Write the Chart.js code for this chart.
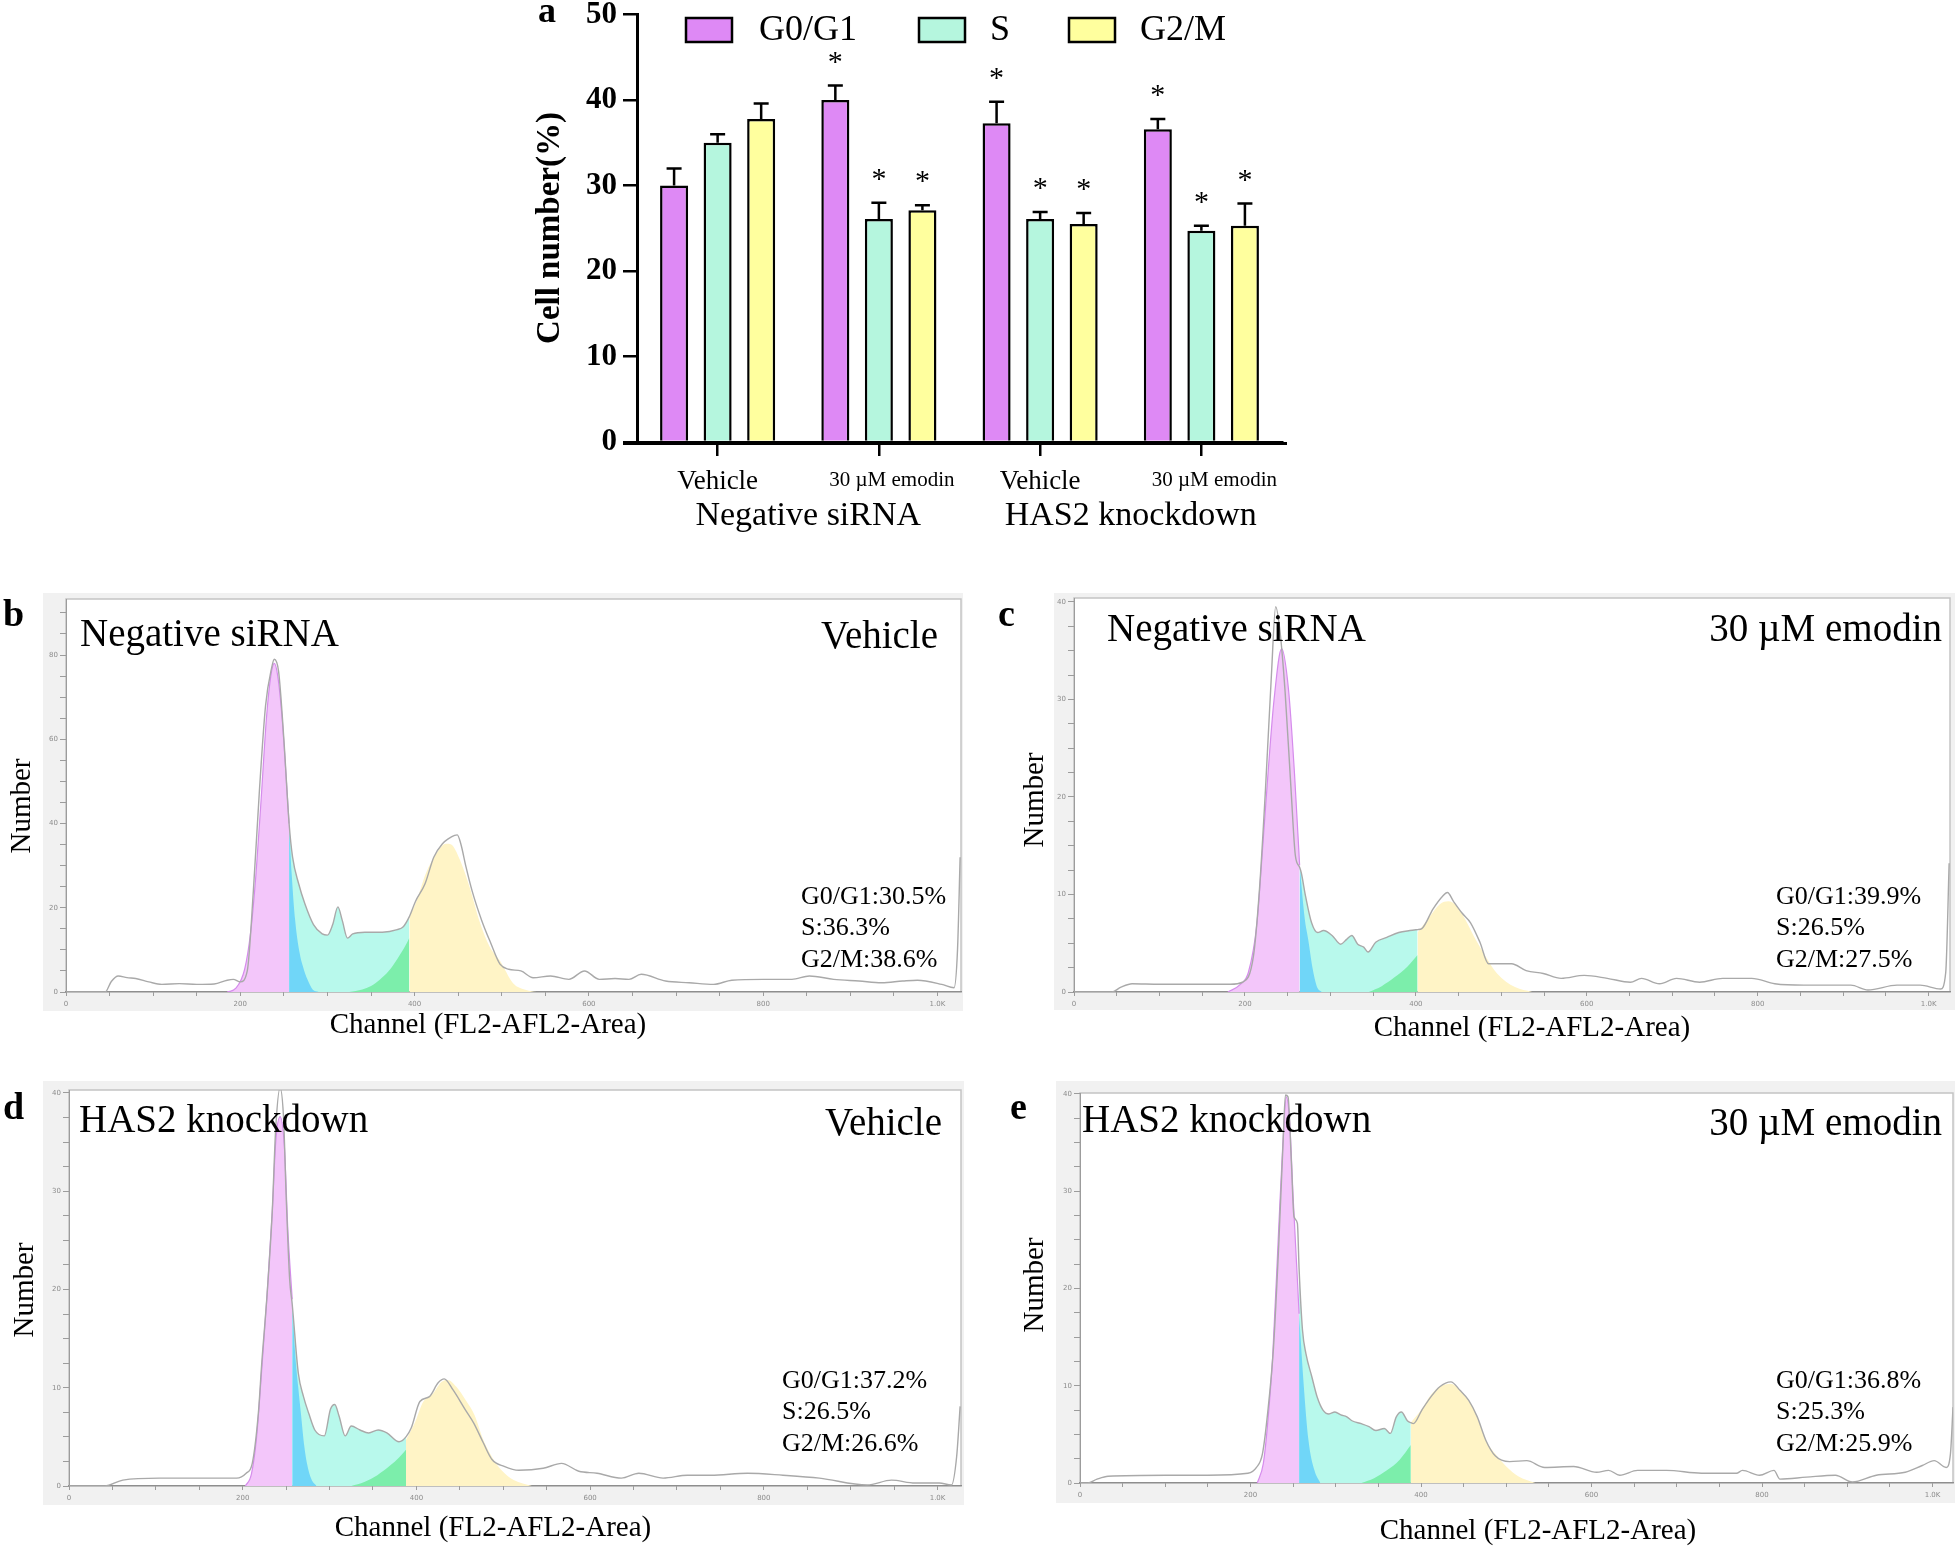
<!DOCTYPE html>
<html>
<head>
<meta charset="utf-8">
<script src="https://cdn.jsdelivr.net/npm/chart.js@4.4.0/dist/chart.umd.min.js"></script>
<style>
  html, body { margin: 0; padding: 0; background: #fff; }
  body { width: 1960px; height: 1552px; position: relative; overflow: hidden; }
  .panel { position: absolute; }
</style>
</head>
<body>
<script>
'use strict';

const SERIF = '"Liberation Serif", "Times New Roman", serif';

// ---- panel a: cell cycle distribution (mean + SD) ----
const groupLabels = ['Vehicle', '30 µM emodin', 'Vehicle', '30 µM emodin'];
const treatmentLabels = ['Negative siRNA', 'HAS2 knockdown'];
const phaseNames = ['G0/G1', 'S', 'G2/M'];
const g0g1Mean = [30.0, 40.0, 37.3, 36.6];
const g0g1Err = [2.0, 1.7, 2.5, 1.2];
const sMean = [35.0, 26.1, 26.1, 24.7];
const sErr = [1.0, 1.9, 0.8, 0.6];
const g2mMean = [37.8, 27.1, 25.5, 25.3];
const g2mErr = [1.8, 0.6, 1.3, 2.6];
const significant = [false, true, true, true];
const yTicksA = [0, 10, 20, 30, 40, 50];

// ---- panels b-e: DNA content histograms ----
const channelTicks = [0, 200, 400, 600, 800, 1000];
const channelTickText = ['0', '200', '400', '600', '800', '1.0K'];

const bChannel = [0, 45, 52, 60, 70, 80, 95, 110, 130, 150, 170, 185, 192, 200, 208, 215, 222, 229, 236, 239, 244, 250, 256, 260, 267, 274, 284, 294, 300, 306, 312, 317, 323, 329, 343, 363, 380, 387, 394, 401, 412, 422, 432, 439, 446, 449, 453, 459, 466, 477, 487, 498, 508, 522, 536, 556, 577, 595, 612, 630, 646, 660, 688, 715, 743, 764, 800, 833, 853, 881, 910, 936, 960, 977, 1005, 1019, 1023, 1026];
const bCount = [0, 0, 2.5, 3.8, 3.4, 3.2, 2.4, 1.8, 2.0, 1.8, 1.9, 2.8, 3.0, 2.4, 5, 24, 48, 68, 77, 79, 76, 60, 40, 32, 25.7, 21, 16, 13.8, 13.5, 16, 20.2, 17, 12.8, 13.8, 14.2, 14.2, 14.8, 15.5, 17.9, 21.5, 25.7, 32, 35.2, 36.4, 37.2, 37.3, 35.2, 29.7, 24, 17, 11.8, 6.6, 5.4, 5, 3.4, 3.8, 3, 5, 3, 3.2, 3, 4.2, 2.6, 2.2, 1.8, 2.8, 3, 3, 3.8, 3, 2.6, 2.2, 2.6, 2.8, 1.8, 1, 10, 32];
const bG1Ch = [185, 195, 205, 212, 218, 224, 230, 235, 239, 243, 248, 252, 256, 259, 263, 268, 272, 277, 283, 290];
const bG1 = [0, 0.9, 5.4, 14.4, 28, 46, 65, 75, 78, 75, 65, 53, 40, 28, 17, 9.4, 6, 3, 0.6, 0];
const bG2Ch = [325, 340, 350, 360, 370, 380, 390, 394];
const bG2 = [0, 0.6, 1.4, 2.9, 4.9, 7.8, 11.2, 12.9];
const bG2MCh = [394, 402, 413, 425, 436, 442, 452, 463, 475, 486, 498, 513, 528, 540];
const bG2M = [17.9, 21.5, 28.2, 32.9, 35.2, 35, 31.4, 25, 16.5, 10.8, 7.4, 2.1, 0.5, 0];
const bCuts = [256, 394];

const cChannel = [0, 44, 55, 68, 100, 150, 183, 197, 210, 217, 224, 231, 236, 241, 247, 254, 259, 264, 266, 271, 278, 285, 292, 302, 312, 319, 325, 332, 339, 344, 353, 366, 380, 393, 402, 407, 420, 431, 437, 444, 454, 464, 475, 485, 495, 512, 529, 549, 570, 597, 624, 651, 664, 685, 705, 732, 759, 793, 820, 854, 909, 929, 963, 990, 1014, 1020, 1024];
const cCount = [0, 0, 0.5, 0.85, 0.8, 0.8, 0.8, 1, 3.7, 10.5, 20.7, 32.5, 39.5, 37, 30.8, 20.7, 14, 12.8, 12.2, 9.8, 7.1, 6.1, 6.3, 5.8, 4.9, 5.4, 5.8, 4.9, 4.6, 4.1, 5.1, 5.6, 6.1, 6.3, 6.4, 6.5, 8.5, 9.8, 10.2, 9.3, 8.1, 7.1, 5.1, 2.9, 2.9, 2.9, 2.2, 1.9, 1.4, 1.7, 1.4, 1, 1.4, 0.85, 1.4, 1, 1.4, 1.4, 0.85, 0.7, 0.7, 0.2, 0.7, 0.7, 0.3, 2, 13.2];
const cG1Ch = [180, 195, 204, 214, 220, 227, 234, 243, 251, 258, 264, 270, 274, 279, 284, 290];
const cG1 = [0, 0.8, 2, 7, 13.9, 22.4, 29.9, 35.2, 31, 22.4, 13, 7.5, 5.4, 2.5, 0.6, 0];
const cG2Ch = [345, 360, 375, 390, 402];
const cG2 = [0, 0.6, 1.5, 2.6, 3.8];
const cG2MCh = [402, 415, 428, 438, 448, 458, 468, 482, 495, 516, 536];
const cG2M = [6.1, 7.6, 9.0, 9.3, 8.8, 7.4, 5.7, 3.6, 1.9, 0.5, 0];
const cCuts = [264, 402];

const dChannel = [0, 41, 62, 104, 150, 193, 204, 211, 218, 222, 228, 234, 238, 243, 247, 250, 254, 257, 264, 270, 276, 283, 294, 301, 306, 311, 318, 325, 335, 345, 356, 366, 380, 388, 394, 404, 415, 425, 432, 442, 456, 466, 477, 487, 501, 518, 546, 567, 587, 608, 636, 656, 684, 712, 739, 781, 822, 864, 919, 947, 974, 1002, 1016, 1022, 1026];
const dCount = [0, 0, 0.6, 0.8, 0.8, 0.8, 1.3, 2.3, 7.4, 12.6, 19.4, 27.9, 36.4, 40.5, 37.5, 29.6, 21.1, 18.5, 11.5, 9.1, 7.4, 5.7, 5.1, 7.8, 8.3, 7.1, 5.1, 6.1, 5.7, 5.4, 5.7, 5.4, 4.5, 5.0, 5.9, 8.6, 9.1, 10.5, 10.9, 9.8, 7.8, 6.4, 4.4, 2.7, 2, 1.6, 1.8, 2.3, 1.5, 1.3, 0.8, 1.3, 0.8, 1.1, 1.1, 1.3, 1.1, 0.8, 0.1, 0.6, 0.3, 0.3, 0.1, 3, 8.1];
const dG1Ch = [203, 210, 216, 222, 228, 234, 238, 243, 248, 252, 257, 260, 264, 267, 271, 274, 279, 285];
const dG1 = [0, 1.2, 5, 12, 19.4, 27.9, 35, 37.6, 34.5, 26, 19, 14, 10, 7.4, 4, 2.3, 0.7, 0];
const dG2Ch = [325, 340, 355, 370, 380, 388];
const dG2 = [0, 0.4, 1.1, 2.1, 2.9, 3.7];
const dG2MCh = [388, 398, 408, 419, 429, 436, 446, 457, 467, 477, 488, 498, 512, 533];
const dG2M = [4.7, 6.4, 8.6, 9.4, 10.6, 10.8, 10.1, 8.7, 7.2, 4.7, 2.8, 1.6, 0.6, 0];
const dCuts = [257, 388];

const eChannel = [0, 9, 20, 33, 101, 150, 197, 207, 214, 220, 227, 233, 238, 241, 244, 248, 251, 255, 257, 261, 265, 272, 278, 285, 292, 299, 306, 313, 319, 330, 339, 347, 357, 364, 371, 377, 384, 388, 391, 401, 412, 422, 435, 446, 456, 466, 476, 487, 504, 524, 545, 579, 606, 620, 633, 654, 688, 729, 770, 777, 797, 814, 821, 852, 886, 906, 934, 968, 988, 1002, 1016, 1021, 1024];
const eCount = [0, 0, 0.4, 0.7, 0.8, 0.8, 1, 1.6, 3, 7.1, 14, 24.3, 34.6, 39.9, 39.7, 32.9, 27.4, 26.7, 22, 15.7, 13.3, 10.9, 8.9, 7.5, 7.1, 7.3, 7, 6.8, 6.4, 6.1, 5.8, 5.4, 5.6, 5.1, 6.8, 7.3, 6.4, 6.2, 6.1, 7.5, 8.9, 9.9, 10.4, 9.5, 8.5, 6.8, 4.4, 2.8, 2.2, 2.3, 1.6, 1.7, 1.1, 1.3, 0.8, 1.3, 1.3, 1, 1, 1.3, 0.8, 1.3, 0.4, 0.6, 0.8, 0.1, 0.8, 1.1, 1.8, 2.3, 1.6, 3, 7.8];
const eG1Ch = [208, 215, 220, 226, 233, 238, 242, 246, 250, 255, 257, 262, 268, 275, 282];
const eG1 = [0, 2, 6, 13, 26, 35, 39.7, 37, 29.4, 20.9, 17.4, 10.6, 4.4, 1.3, 0];
const eG2Ch = [330, 345, 360, 375, 388];
const eG2 = [0, 0.5, 1.3, 2.4, 3.9];
const eG2MCh = [388, 401, 411, 422, 435, 446, 456, 466, 476, 487, 500, 514, 534];
const eG2M = [6.2, 7.6, 9.0, 9.9, 10.2, 9.5, 8.5, 6.8, 4.4, 3.0, 1.7, 0.7, 0];
const eCuts = [257, 388];

// fill colours of the fitted components
const PINK = '#f3c6fa', BLUE = '#70d6f8', MINT = '#b8f9ec', GREEN = '#7ceeab', YELLOW = '#fff4c6';

// page placement (page px) of every panel
const barBox = { left: 500, top: -10, w: 820, h: 560 };
const histPanels = [
  { id: 'histB', letter: 'b', title: 'Negative siRNA', treatment: 'Vehicle', stats: ['G0/G1:30.5%', 'S:36.3%', 'G2/M:38.6%'],
    ch: bChannel, count: bCount, g1Ch: bG1Ch, g1: bG1, g2Ch: bG2Ch, g2: bG2, g2mCh: bG2MCh, g2m: bG2M, cuts: bCuts,
    yMax: 93.3, yStep: 5, yLabelEvery: 20, xMax: 1027,
    box: { left: 0, top: 585, w: 985, h: 460 }, frame: [43, 593, 963, 1011], area: [66, 599, 961, 992],
    letterPos: [3, 616], titlePos: [80, 636], treatPos: [938, 638], statsPos: [801, 897], numberPos: [22, 806], channelPos: [488, 1025] },
  { id: 'histC', letter: 'c', title: 'Negative siRNA', treatment: '30 µM emodin', stats: ['G0/G1:39.9%', 'S:26.5%', 'G2/M:27.5%'],
    ch: cChannel, count: cCount, g1Ch: cG1Ch, g1: cG1, g2Ch: cG2Ch, g2: cG2, g2mCh: cG2MCh, g2m: cG2M, cuts: cCuts,
    yMax: 40.4, yStep: 2.5, yLabelEvery: 10, xMax: 1025,
    box: { left: 990, top: 585, w: 970, h: 460 }, frame: [1054, 593, 1955, 1010], area: [1074, 598, 1950, 992],
    letterPos: [998, 616], titlePos: [1107, 631], treatPos: [1942, 631], statsPos: [1776, 897], numberPos: [1035, 800], channelPos: [1532, 1028] },
  { id: 'histD', letter: 'd', title: 'HAS2 knockdown', treatment: 'Vehicle', stats: ['G0/G1:37.2%', 'S:26.5%', 'G2/M:26.6%'],
    ch: dChannel, count: dCount, g1Ch: dG1Ch, g1: dG1, g2Ch: dG2Ch, g2: dG2, g2mCh: dG2MCh, g2m: dG2M, cuts: dCuts,
    yMax: 40.3, yStep: 2.5, yLabelEvery: 10, xMax: 1027,
    box: { left: 0, top: 1075, w: 985, h: 477 }, frame: [43, 1081, 964, 1505], area: [69, 1090, 961, 1486],
    letterPos: [3, 1109], titlePos: [79, 1122], treatPos: [942, 1125], statsPos: [782, 1381], numberPos: [25, 1290], channelPos: [493, 1528] },
  { id: 'histE', letter: 'e', title: 'HAS2 knockdown', treatment: '30 µM emodin', stats: ['G0/G1:36.8%', 'S:25.3%', 'G2/M:25.9%'],
    ch: eChannel, count: eCount, g1Ch: eG1Ch, g1: eG1, g2Ch: eG2Ch, g2: eG2, g2mCh: eG2MCh, g2m: eG2M, cuts: eCuts,
    yMax: 40.1, yStep: 2.5, yLabelEvery: 10, xMax: 1024,
    box: { left: 990, top: 1075, w: 970, h: 477 }, frame: [1056, 1081, 1955, 1503], area: [1080, 1093, 1953, 1483],
    letterPos: [1010, 1109], titlePos: [1082, 1122], treatPos: [1942, 1125], statsPos: [1776, 1381], numberPos: [1035, 1285], channelPos: [1538, 1531] }
];

function addCanvas(id, box) {
  const div = document.createElement('div');
  div.className = 'panel';
  div.style.left = box.left + 'px';
  div.style.top = box.top + 'px';
  div.style.width = box.w + 'px';
  div.style.height = box.h + 'px';
  const canvas = document.createElement('canvas');
  canvas.id = id;
  div.appendChild(canvas);
  document.body.appendChild(div);
  return canvas;
}

function drawText(ctx, text, x, y, font, align, baseline) {
  ctx.font = font;
  ctx.textAlign = align || 'left';
  ctx.textBaseline = baseline || 'middle';
  ctx.fillStyle = '#000';
  ctx.fillText(text, x, y);
}

// ---------------- panel a ----------------
const barDecor = {
  id: 'barDecor',
  afterDraw(chart) {
    const ctx = chart.ctx;
    const y = chart.scales.y, x = chart.scales.x;
    const ox = barBox.left, oy = barBox.top;
    const area = chart.chartArea;
    ctx.save();

    // x axis runs a little past the y axis, as in the original
    ctx.strokeStyle = '#000';
    ctx.lineWidth = 3;
    ctx.beginPath();
    ctx.moveTo(area.left - 14, area.bottom + 1.5);
    ctx.lineTo(area.right + 5, area.bottom + 1.5);
    ctx.stroke();

    // error bars (upper half) and significance stars
    chart.data.datasets.forEach((ds, di) => {
      chart.getDatasetMeta(di).data.forEach((bar, i) => {
        const top = y.getPixelForValue(ds.data[i] + ds.errors[i]);
        ctx.strokeStyle = '#000';
        ctx.lineWidth = 2.5;
        ctx.beginPath();
        ctx.moveTo(bar.x, bar.y);
        ctx.lineTo(bar.x, top);
        ctx.moveTo(bar.x - 7.5, top);
        ctx.lineTo(bar.x + 7.5, top);
        ctx.stroke();
        if (significant[i]) {
          drawText(ctx, '*', bar.x, top - 15, '30px ' + SERIF, 'center', 'alphabetic');
        }
      });
    });

    // legend
    const legendBoxX = [686, 919, 1069];
    const legendTextX = [759, 990, 1140];
    chart.data.datasets.forEach((ds, di) => {
      ctx.fillStyle = ds.backgroundColor;
      ctx.fillRect(legendBoxX[di] - ox, 18 - oy, 46, 24);
      ctx.lineWidth = 2.5;
      ctx.strokeStyle = '#000';
      ctx.strokeRect(legendBoxX[di] - ox, 18 - oy, 46, 24);
      drawText(ctx, phaseNames[di], legendTextX[di] - ox, 31 - oy, '36px ' + SERIF);
    });

    // category and treatment labels
    groupLabels.forEach((lab, i) => {
      const cx = x.getPixelForValue(i);
      if (lab === 'Vehicle') {
        drawText(ctx, lab, cx, 482 - oy, '27px ' + SERIF, 'center');
      } else {
        drawText(ctx, lab, cx + 13, 480 - oy, '21px ' + SERIF, 'center');
      }
    });
    treatmentLabels.forEach((lab, k) => {
      const cx = (x.getPixelForValue(2 * k) + x.getPixelForValue(2 * k + 1)) / 2 + 10;
      drawText(ctx, lab, cx, 516 - oy, '34px ' + SERIF, 'center');
    });

    // axis title and panel letter
    ctx.save();
    ctx.translate(550 - ox, 228 - oy);
    ctx.rotate(-Math.PI / 2);
    drawText(ctx, 'Cell number(%)', 0, 0, 'bold 33px ' + SERIF, 'center');
    ctx.restore();
    drawText(ctx, 'a', 538 - ox, 13 - oy, 'bold 36px ' + SERIF);
    ctx.restore();
  }
};

new Chart(addCanvas('barChart', barBox), {
  type: 'bar',
  data: {
    labels: groupLabels,
    datasets: [
      { label: phaseNames[0], data: g0g1Mean, errors: g0g1Err, backgroundColor: '#de89f5' },
      { label: phaseNames[1], data: sMean, errors: sErr, backgroundColor: '#b5f6de' },
      { label: phaseNames[2], data: g2mMean, errors: g2mErr, backgroundColor: '#ffff9e' }
    ]
  },
  options: {
    responsive: true,
    maintainAspectRatio: false,
    animation: false,
    devicePixelRatio: 1,
    datasets: { bar: { borderColor: '#000', borderWidth: 2.5, categoryPercentage: 0.81, barPercentage: 0.644 } },
    layout: { padding: { left: 0, top: 22, right: 38, bottom: 0 } },
    plugins: { legend: { display: false }, tooltip: { enabled: false } },
    scales: {
      x: {
        offset: true,
        grid: { offset: false, drawOnChartArea: false, tickLength: 14, lineWidth: 2.5, color: '#000' },
        border: { width: 3, color: '#000' },
        ticks: { display: false },
        afterFit: s => { s.height = 108; }
      },
      y: {
        min: 0, max: 50,
        afterBuildTicks: s => { s.ticks = yTicksA.map(v => ({ value: v })); },
        grid: { drawOnChartArea: false, tickLength: 14, lineWidth: 2.5, color: '#000' },
        border: { width: 3, color: '#000' },
        ticks: { font: { family: SERIF, size: 31, weight: 'bold' }, color: '#000', padding: 6 },
        afterFit: s => { s.width = 137; }
      }
    }
  },
  plugins: [barDecor]
});

// ---------------- panels b-e ----------------
function pairs(xs, ys) {
  return xs.map((x, i) => ({ x: x, y: ys[i] }));
}

function makeHistogram(p) {
  const canvas = addCanvas(p.id, p.box);
  const ox = p.box.left, oy = p.box.top;
  const raw = pairs(p.ch, p.count);
  const g1 = pairs(p.g1Ch, p.g1);
  const cut1 = p.cuts[0], cut2 = p.cuts[1];

  const fillSet = (data, color) => ({
    data: data, backgroundColor: color, borderColor: 'transparent', borderWidth: 0, fill: 'origin'
  });

  const frameDecor = {
    id: 'frameDecor',
    beforeDraw(chart) {
      const ctx = chart.ctx;
      const f = p.frame, a = p.area;
      ctx.save();
      ctx.fillStyle = '#f1f1f1';
      ctx.fillRect(f[0] - ox, f[1] - oy, f[2] - f[0], f[3] - f[1]);
      ctx.fillStyle = '#fff';
      ctx.fillRect(a[0] - ox, a[1] - oy, a[2] - a[0], a[3] - a[1]);
      ctx.strokeStyle = '#c4c4c4';
      ctx.lineWidth = 1.5;
      ctx.strokeRect(a[0] - ox, a[1] - oy, a[2] - a[0], a[3] - a[1]);
      ctx.restore();
    },
    afterDraw(chart) {
      const ctx = chart.ctx;
      ctx.save();
      drawText(ctx, p.letter, p.letterPos[0] - ox, p.letterPos[1] - oy, 'bold 38px ' + SERIF);
      drawText(ctx, p.title, p.titlePos[0] - ox, p.titlePos[1] - oy, '39px ' + SERIF);
      drawText(ctx, p.treatment, p.treatPos[0] - ox, p.treatPos[1] - oy, '39px ' + SERIF, 'right');
      p.stats.forEach((s, i) => {
        drawText(ctx, s, p.statsPos[0] - ox, p.statsPos[1] - oy + i * 31.5, '26px ' + SERIF);
      });
      drawText(ctx, 'Channel (FL2-AFL2-Area)', p.channelPos[0] - ox, p.channelPos[1] - oy, '29px ' + SERIF, 'center');
      ctx.translate(p.numberPos[0] - ox, p.numberPos[1] - oy);
      ctx.rotate(-Math.PI / 2);
      drawText(ctx, 'Number', 0, 0, '29px ' + SERIF, 'center');
      ctx.restore();
    }
  };

  new Chart(canvas, {
    type: 'line',
    data: {
      datasets: [
        { data: raw, borderColor: '#a9a9a9', borderWidth: 1.4, fill: false },
        { data: g1.filter(d => d.x <= cut1), backgroundColor: PINK, borderColor: '#d58cec', borderWidth: 1.2, fill: 'origin' },
        fillSet(pairs(p.g2mCh, p.g2m), YELLOW),
        fillSet(g1.filter(d => d.x >= cut1), BLUE),
        fillSet(pairs(p.g2Ch, p.g2), GREEN),
        fillSet(raw.filter(d => d.x >= cut1 && d.x <= cut2), MINT)
      ]
    },
    options: {
      responsive: true,
      maintainAspectRatio: false,
      animation: false,
      devicePixelRatio: 1,
      elements: { point: { radius: 0 }, line: { cubicInterpolationMode: 'monotone' } },
      layout: { padding: { left: 0, top: p.area[1] - oy, right: p.box.left + p.box.w - p.area[2], bottom: 0 } },
      plugins: { legend: { display: false }, tooltip: { enabled: false } },
      scales: {
        x: {
          type: 'linear', min: 0, max: p.xMax,
          grid: { drawOnChartArea: false, tickLength: 4, color: '#9c9c9c', lineWidth: 1 },
          border: { color: '#8e8e8e', width: 1.2 },
          ticks: {
            stepSize: 50, autoSkip: false, includeBounds: false, maxRotation: 0, padding: 4,
            font: { size: 7, family: 'DejaVu Sans' }, color: '#8c8c8c',
            callback: v => {
              const k = channelTicks.indexOf(v);
              return k >= 0 ? channelTickText[k] : '';
            }
          },
          afterFit: s => { s.height = p.box.top + p.box.h - p.area[3]; }
        },
        y: {
          min: 0, max: p.yMax,
          grid: { drawOnChartArea: false, tickLength: 6, color: '#9c9c9c', lineWidth: 1 },
          border: { color: '#9c9c9c', width: 1 },
          ticks: {
            stepSize: p.yStep, autoSkip: false, includeBounds: false, padding: 2,
            font: { size: 7, family: 'DejaVu Sans' }, color: '#8c8c8c',
            callback: v => (v % p.yLabelEvery === 0 ? String(v) : '')
          },
          afterFit: s => { s.width = p.area[0] - ox; }
        }
      }
    },
    plugins: [frameDecor]
  });
}

histPanels.forEach(makeHistogram);
</script>
</body>
</html>
